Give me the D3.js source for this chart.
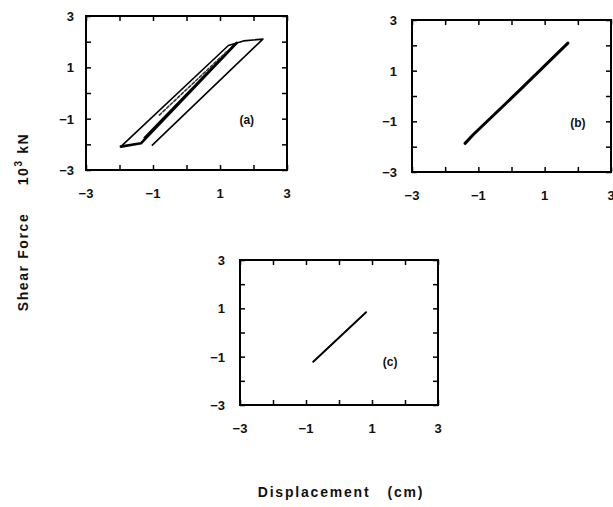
<!DOCTYPE html>
<html>
<head>
<meta charset="utf-8">
<script src="https://cdn.jsdelivr.net/npm/d3@7"></script>
<style>
  body { margin: 0; background: #fff; }
  svg { display: block; }
  text { font-family: "Liberation Sans", Arial, sans-serif; fill: #111; }
</style>
</head>
<body>
<svg id="chart" width="613" height="507"></svg>
<script>
// axis values (10^3 kN vs cm)
const tickValues = [-3, -2, -1, 0, 1, 2, 3];
const tickLabels = [-3, -1, 1, 3];

// panel (a): hysteresis loop
const aOuter = [[-1.96, -2.09], [1.25, 1.85], [1.7, 2.03], [2.28, 2.1], [-1.02, -2.03]];
const aMiddle = [[-1.96, -2.09], [-1.36, -1.96], [1.5, 1.95]];
const aInner = [[-1.25, -1.75], [1.45, 1.9]];
const aDashed = [[-0.81, -0.86], [1.19, 1.6]];
// panel (b)
const bLine = [[-1.4, -1.87], [-1.15, -1.52], [0.24, 0.22], [1.7, 2.09]];
// panel (c)
const cLine = [[-0.78, -1.21], [0.82, 0.84]];

const svg = d3.select('#chart');

const panels = [
  { x0: 86, x1: 287, y0: 16, y1: 170, tag: '(a)', tagX: 1.8, tagY: -1.05, labelGap: 12,
    series: [
      { pts: aOuter, w: 1.6 },
      { pts: aMiddle, w: 2.6 },
      { pts: aInner, w: 2.4 },
      { pts: aDashed, w: 1.6, dash: '3,2', color: '#333' }
    ] },
  { x0: 412, x1: 611, y0: 20, y1: 172, tag: '(b)', tagX: 2.0, tagY: -1.05, labelGap: 15,
    series: [{ pts: bLine, w: 3 }] },
  { x0: 240, x1: 438, y0: 260, y1: 405, tag: '(c)', tagX: 1.55, tagY: -1.2, labelGap: 15,
    series: [{ pts: cLine, w: 2 }] }
];

panels.forEach(p => {
  const x = d3.scaleLinear().domain([-3, 3]).range([p.x0, p.x1]);
  const y = d3.scaleLinear().domain([-3, 3]).range([p.y1, p.y0]);
  const g = svg.append('g');

  const line = d3.line().x(d => x(d[0])).y(d => y(d[1]));

  p.series.forEach(s => {
    g.append('path')
      .attr('d', line(s.pts))
      .attr('fill', 'none')
      .attr('stroke', s.color || '#000')
      .attr('stroke-width', s.w)
      .attr('stroke-linejoin', 'round')
      .attr('stroke-linecap', 'round')
      .attr('stroke-dasharray', s.dash || null);
  });

  // inward ticks on all four sides
  const axes = [
    { ax: d3.axisBottom(x), t: `translate(0,${p.y1})` },
    { ax: d3.axisTop(x), t: `translate(0,${p.y0})` },
    { ax: d3.axisLeft(y), t: `translate(${p.x0},0)` },
    { ax: d3.axisRight(y), t: `translate(${p.x1},0)` }
  ];
  axes.forEach(a => {
    const ag = g.append('g')
      .attr('transform', a.t)
      .call(a.ax.tickValues(tickValues).tickSize(-5).tickFormat(''));
    ag.select('.domain').remove();
    ag.selectAll('.tick line').attr('stroke', '#000').attr('stroke-width', 1.5);
  });

  g.append('rect')
    .attr('x', p.x0).attr('y', p.y0)
    .attr('width', p.x1 - p.x0).attr('height', p.y1 - p.y0)
    .attr('fill', 'none').attr('stroke', '#000').attr('stroke-width', 2);

  g.selectAll('text.xl')
    .data(tickLabels)
    .enter().append('text')
    .attr('class', 'xl')
    .attr('x', d => x(d))
    .attr('y', p.y1 + 28)
    .attr('text-anchor', 'middle')
    .attr('font-size', 13)
    .attr('font-weight', 'bold')
    .text(d => d < 0 ? '\u2212' + Math.abs(d) : d);

  g.selectAll('text.yl')
    .data(tickLabels)
    .enter().append('text')
    .attr('class', 'yl')
    .attr('x', p.x0 - p.labelGap)
    .attr('y', d => y(d) + 5)
    .attr('text-anchor', 'end')
    .attr('font-size', 13)
    .attr('font-weight', 'bold')
    .text(d => d < 0 ? '\u2212' + Math.abs(d) : d);

  g.append('text')
    .attr('x', x(p.tagX))
    .attr('y', y(p.tagY) + 4)
    .attr('text-anchor', 'middle')
    .attr('font-size', 12)
    .attr('font-weight', 'bold')
    .text(p.tag);
});

// shared axis titles
const yt = svg.append('text')
  .attr('transform', 'translate(28,222) rotate(-90)')
  .attr('text-anchor', 'middle')
  .attr('font-size', 14)
  .attr('font-weight', 'bold')
  .attr('letter-spacing', 1.6);
yt.append('tspan').text('Shear Force\u00a0\u00a0\u00a0\u00a0\u00a010');
yt.append('tspan').attr('dy', -6).attr('font-size', 10).text('3');
yt.append('tspan').attr('dy', 6).text(' kN');

svg.append('text')
  .attr('x', 341)
  .attr('y', 497)
  .attr('text-anchor', 'middle')
  .attr('font-size', 14)
  .attr('font-weight', 'bold')
  .attr('letter-spacing', 1.8)
  .text('Displacement\u00a0\u00a0\u00a0(cm)');
</script>
</body>
</html>
